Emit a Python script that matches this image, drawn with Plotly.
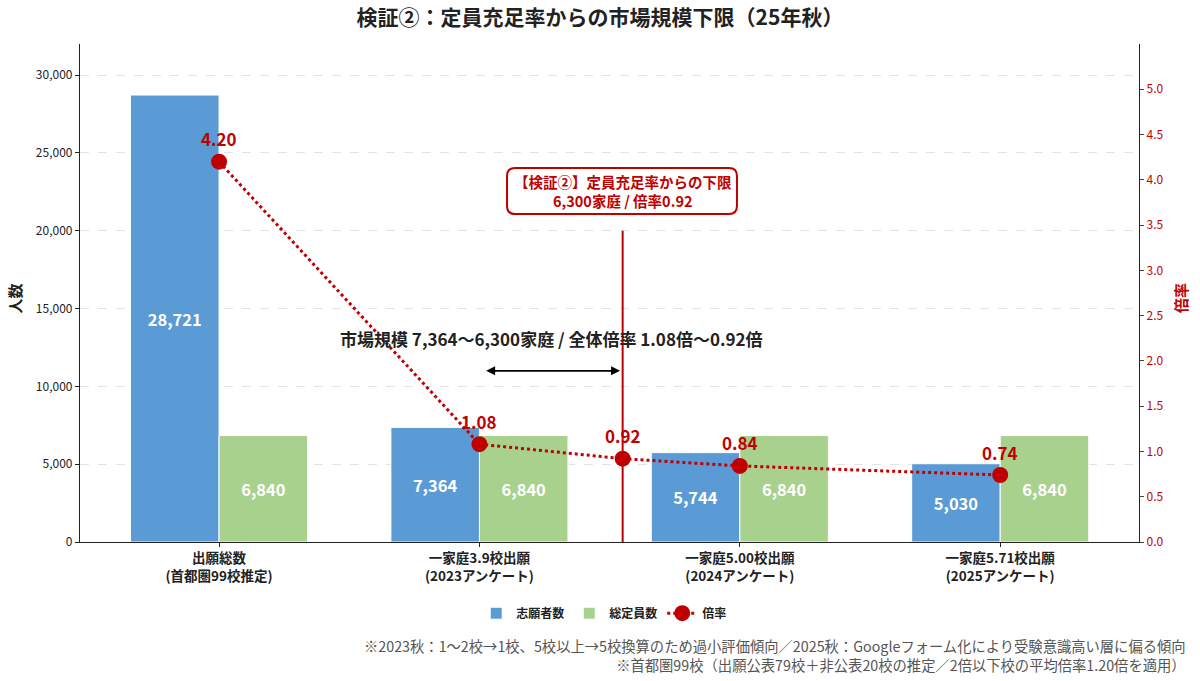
"""検証②：定員充足率からの市場規模下限（25年秋）
  棒: 志願者数 / 総定員数（左軸）
  点線: 倍率（右軸）
"""
import plotly.graph_objects as go

FONT = 'Noto Sans CJK JP'
BLUE = '#5B9BD5'
GREEN = '#A9D18E'
RED = '#C00000'

CATEGORIES = ['出願総数<br>(首都圏99校推定)', '一家庭3.9校出願<br>(2023アンケート)',
              '一家庭5.00校出願<br>(2024アンケート)', '一家庭5.71校出願<br>(2025アンケート)']
CAT_X = [0, 1, 2, 3]
APPLICANTS = [28721, 7364, 5744, 5030]
CAPACITY = [6840, 6840, 6840, 6840]

# 倍率（1.55 の位置が下限 6,300家庭）
RATIO_X = [0, 1, 1.55, 2, 3]
RATIO = [4.20, 1.08, 0.92, 0.84, 0.74]

LOWER_X = 1.55
LOWER_TOP = 20000
ARROW_FROM, ARROW_TO, ARROW_Y = 1.02, 1.54, 11000

LEFT_TICKS = [0, 5000, 10000, 15000, 20000, 25000, 30000]
RIGHT_TICKS = [0.0, 0.5, 1.0, 1.5, 2.0, 2.5, 3.0, 3.5, 4.0, 4.5, 5.0]

NOTES = ['※2023秋：1〜2校→1校、5校以上→5校換算のため過小評価傾向／2025秋：Googleフォーム化により受験意識高い層に偏る傾向',
         '※首都圏99校（出願公表79校＋非公表20校の推定／2倍以下校の平均倍率1.20倍を適用）']


def rounded_box(x0, x1, y0, y1, rx, ry):
    """角丸の四角 (SVG path)"""
    return (f'M {x0 + rx},{y1} L {x1 - rx},{y1} Q {x1},{y1} {x1},{y1 - ry} '
            f'L {x1},{y0 + ry} Q {x1},{y0} {x1 - rx},{y0} L {x0 + rx},{y0} '
            f'Q {x0},{y0} {x0},{y0 + ry} L {x0},{y1 - ry} Q {x0},{y1} {x0 + rx},{y1} Z')


fig = go.Figure()

fig.add_trace(go.Bar(
    x=CAT_X, y=APPLICANTS, name='志願者数', marker=dict(color=BLUE, line=dict(color='white', width=1)),
    text=[f'{v:,}' for v in APPLICANTS], textposition='inside', insidetextanchor='middle',
    textfont=dict(color='white', size=16.5, family=FONT, weight='bold'), textangle=0,
))
fig.add_trace(go.Bar(
    x=CAT_X, y=CAPACITY, name='総定員数', marker=dict(color=GREEN, line=dict(color='white', width=1)),
    text=[f'{v:,}' for v in CAPACITY], textposition='inside', insidetextanchor='middle',
    textfont=dict(color='white', size=16.5, family=FONT, weight='bold'), textangle=0,
))
fig.add_trace(go.Scatter(
    x=RATIO_X, y=RATIO, name='倍率', yaxis='y2', mode='lines+markers',
    line=dict(color=RED, width=3, dash='dot'), marker=dict(color=RED, size=16),
))

# 倍率ラベル
for xv, rv in zip(RATIO_X, RATIO):
    fig.add_annotation(x=xv, y=rv, xref='x', yref='y2', text=f'{rv:.2f}', showarrow=False,
                       yshift=23, font=dict(color=RED, size=17, family=FONT, weight='bold'))

# 下限の縦線
fig.add_shape(type='line', x0=LOWER_X, x1=LOWER_X, y0=0, y1=LOWER_TOP, xref='x', yref='y',
              line=dict(color=RED, width=2))

# 両矢印 + 説明
fig.add_annotation(x=ARROW_TO, y=ARROW_Y, ax=ARROW_FROM, ay=ARROW_Y, xref='x', yref='y',
                   axref='x', ayref='y', text='', showarrow=True, arrowhead=2, arrowside='end+start',
                   arrowsize=1, arrowwidth=1.8, arrowcolor='black')
fig.add_annotation(x=1.275, y=13100, xref='x', yref='y',
                   text='市場規模 7,364〜6,300家庭 / 全体倍率 1.08倍〜0.92倍', showarrow=False,
                   font=dict(color='#222', size=17, family=FONT, weight='bold'))

# 下限ボックス（角丸）
fig.add_shape(type='path', xref='x', yref='y',
              path=rounded_box(1.106, 1.989, 21076, 24031, 0.0307, 514),
              line=dict(color=RED, width=2), fillcolor='white')
fig.add_annotation(x=LOWER_X, y=22553, xref='x', yref='y',
                   text='【検証②】定員充足率からの下限<br>6,300家庭 / 倍率0.92', showarrow=False,
                   font=dict(color=RED, size=14.5, family=FONT, weight='bold'))

# 軸タイトル
fig.add_annotation(x=-0.061, y=0.49, xref='paper', yref='paper', xanchor='center', text='人数',
                   textangle=-90, showarrow=False,
                   font=dict(color='#222', size=15, family=FONT, weight='bold'))
fig.add_annotation(x=1.0397, y=0.49, xref='paper', yref='paper', xanchor='center', text='倍率',
                   textangle=-90, showarrow=False,
                   font=dict(color=RED, size=15, family=FONT, weight='bold'))

# 注記
fig.add_annotation(x=1.046, y=-0.227, xref='paper', yref='paper', xanchor='right', yanchor='middle',
                   align='right', text='<br>'.join(NOTES),
                   showarrow=False, font=dict(color='#555', size=14.3, family=FONT))

fig.update_layout(
    width=1200, height=681,
    margin=dict(l=80, r=61, t=44, b=139),
    plot_bgcolor='white', paper_bgcolor='white',
    font=dict(family=FONT, color='#222', size=12),
    barmode='group', bargap=0.32, bargroupgap=0,
    title=dict(text='<b>検証②：定員充足率からの市場規模下限（25年秋）</b>', x=0.5, xanchor='center',
               y=1 - 18 / 681, yanchor='middle', font=dict(size=21, family=FONT, color='#222')),
    xaxis=dict(range=[-0.534, 3.533], tickvals=CAT_X, ticktext=[f'<b>{c}</b>' for c in CATEGORIES],
               showline=True, linecolor='#222', linewidth=1.2, ticks='outside', ticklen=4,
               tickcolor='#222', showgrid=False, zeroline=False, tickfont=dict(size=13.5)),
    yaxis=dict(range=[0, 32000], tickvals=LEFT_TICKS, tickformat=',', showline=True,
               linecolor='#222', linewidth=1.2, ticks='outside', ticklen=4, tickcolor='#222',
               showgrid=True, gridcolor='#e3e3e3', griddash='dash', gridwidth=1, zeroline=False,
               tickfont=dict(size=12)),
    yaxis2=dict(range=[0, 5.5], tickvals=RIGHT_TICKS, tickformat='.1f', overlaying='y', side='right',
                showline=True, linecolor='#222', linewidth=1.2, ticks='outside', ticklen=4,
                tickcolor='#444', showgrid=False, zeroline=False, tickfont=dict(size=12, color=RED)),
    legend=dict(orientation='h', x=0.495, y=-0.143, xanchor='center', yanchor='middle',
                font=dict(size=12, family=FONT, weight='bold'), bgcolor='rgba(0,0,0,0)'),
    showlegend=True,
)

fig.write_html('out.html', config={'displayModeBar': False},
               post_script="document.body.style.margin='0';")
